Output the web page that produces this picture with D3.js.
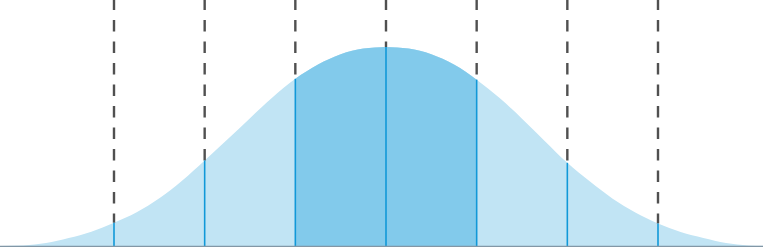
<!DOCTYPE html>
<html>
<head>
<meta charset="utf-8">
<script src="https://cdn.jsdelivr.net/npm/d3@7"></script>
<style>
  body { margin: 0; background: #fff; }
  svg { display: block; }
</style>
</head>
<body>
<svg width="763" height="247"></svg>
<script>
// sigma markers (z units)
var marks = [-3, -2, -1, 0, 1, 2, 3];

// curve: z position and relative height (peak = 1)
var curveZ = [-4.3, -4, -3.75, -3.5, -3.25, -3, -2.75, -2.5, -2.25, -2, -1.75, -1.5, -1.25, -1,
  -0.75, -0.5, -0.25, 0, 0.25, 0.5, 0.75, 1, 1.25, 1.5, 1.75, 2, 2.25, 2.5, 2.75, 3,
  3.25, 3.5, 3.75, 4, 4.3];
var curveV = [0, 0.003, 0.015, 0.04, 0.072, 0.117, 0.17, 0.24, 0.328, 0.43, 0.535, 0.642, 0.747, 0.84,
  0.912, 0.964, 0.992, 1, 0.992, 0.964, 0.912, 0.836, 0.745, 0.64, 0.528, 0.418, 0.324, 0.238, 0.168, 0.113,
  0.07, 0.04, 0.015, 0.003, 0];

var svg = d3.select('svg');
var width = 763, height = 247;

var x = d3.scaleLinear()
  .domain([-3, 3])
  .range([114, 658]);

var y = d3.scaleLinear()
  .domain([0, 1])
  .range([246, 47]);

var pts = curveZ.map(function (z, i) {
  return { z: z, v: curveV[i] };
});

var area = d3.area()
  .x(function (d) { return x(d.z); })
  .y0(y(0))
  .y1(function (d) { return y(d.v); })
  .curve(d3.curveMonotoneX);

// value of the curve at a marker
function valueAt(z) {
  var i = d3.bisector(function (d) { return d.z; }).left(pts, z);
  if (i <= 0) return pts[0].v;
  if (i >= pts.length) return pts[pts.length - 1].v;
  var a = pts[i - 1], b = pts[i];
  var t = (z - a.z) / (b.z - a.z);
  return a.v + t * (b.v - a.v);
}

svg.append('defs')
  .append('clipPath')
  .attr('id', 'mid')
  .append('rect')
  .attr('x', x(-1))
  .attr('y', 0)
  .attr('width', x(1) - x(-1))
  .attr('height', height);

svg.append('path')
  .datum(pts)
  .attr('d', area)
  .attr('fill', '#c1e4f4');

svg.append('path')
  .datum(pts)
  .attr('d', area)
  .attr('fill', '#82caeb')
  .attr('clip-path', 'url(#mid)');

// dashed guides above the curve
svg.append('g')
  .selectAll('line')
  .data(marks)
  .enter()
  .append('line')
  .attr('x1', function (d) { return x(d); })
  .attr('x2', function (d) { return x(d); })
  .attr('y1', -1.5)
  .attr('y2', function (d) { return y(valueAt(d)); })
  .attr('stroke', '#505050')
  .attr('stroke-width', 2.4)
  .attr('stroke-dasharray', '11.5,10');

// blue lines under the curve
svg.append('g')
  .selectAll('line')
  .data(marks)
  .enter()
  .append('line')
  .attr('x1', function (d) { return x(d); })
  .attr('x2', function (d) { return x(d); })
  .attr('y1', y(0))
  .attr('y2', function (d) { return y(valueAt(d)); })
  .attr('stroke', '#1198d8')
  .attr('stroke-width', 1.6);

// baseline
svg.append('line')
  .attr('x1', 0)
  .attr('x2', width)
  .attr('y1', 246.5)
  .attr('y2', 246.5)
  .attr('stroke', '#8297a6')
  .attr('stroke-width', 1.4);
</script>
</body>
</html>
